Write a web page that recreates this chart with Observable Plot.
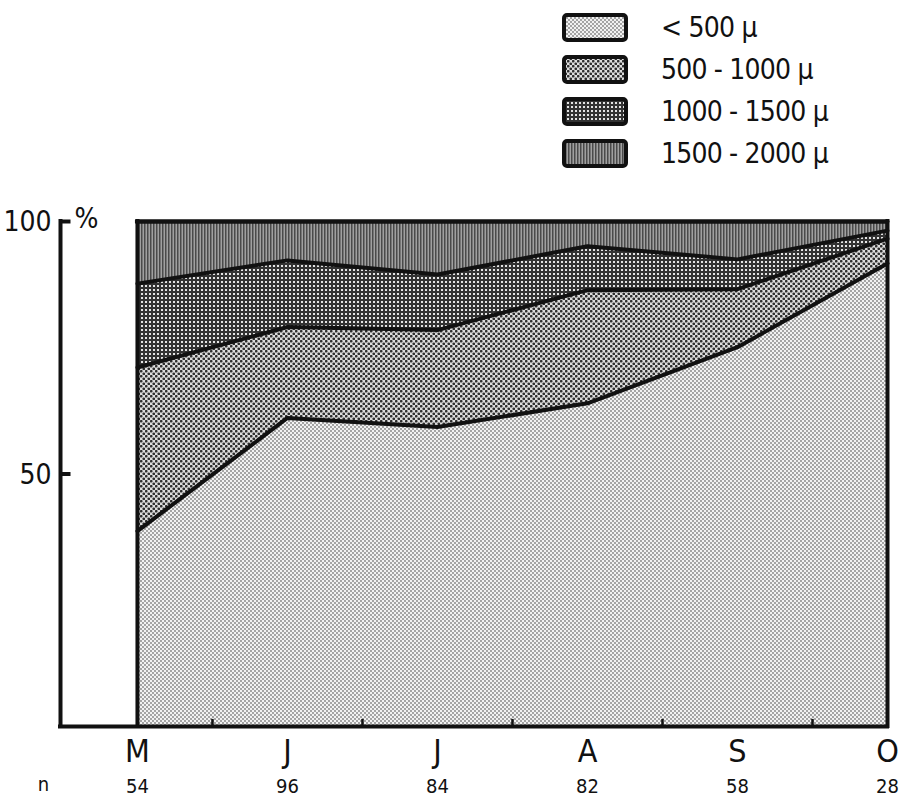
<!DOCTYPE html>
<html>
<head>
<meta charset="utf-8">
<script src="https://cdn.jsdelivr.net/npm/d3@7"></script>
<script src="https://cdn.jsdelivr.net/npm/@observablehq/plot@0.6"></script>
<style>
  html, body { margin: 0; padding: 0; background: #fff; overflow: hidden; }
  #wrap { position: relative; width: 903px; height: 799px; font-family: "DejaVu Sans Condensed", "DejaVu Sans", sans-serif; }
  #chart { position: absolute; left: 0; top: 0; }
  #legend { position: absolute; left: 562px; top: 6px; }
  .row { display: flex; align-items: center; height: 42px; }
  .row svg { display: block; }
  .row span { margin-left: 33px; font-size: 28px; color: #111; letter-spacing: -0.8px; }
</style>
</head>
<body>
<svg width="0" height="0" style="position:absolute">
  <defs>
    <pattern id="p1" width="4" height="4" patternUnits="userSpaceOnUse">
      <rect width="4" height="4" fill="#f2f2f2"/>
      <circle cx="1" cy="1" r="0.9" fill="#808080"/>
      <circle cx="3" cy="3" r="0.9" fill="#808080"/>
    </pattern>
    <pattern id="p2" width="5" height="5" patternUnits="userSpaceOnUse">
      <rect width="5" height="5" fill="#dcdcdc"/>
      <circle cx="1.25" cy="1.25" r="1.35" fill="#2e2e2e"/>
      <circle cx="3.75" cy="3.75" r="1.35" fill="#2e2e2e"/>
    </pattern>
    <pattern id="p3" width="4" height="4" patternUnits="userSpaceOnUse">
      <rect width="4" height="4" fill="#333"/>
      <rect x="1" y="1" width="2" height="2" fill="#e4e4e4"/>
    </pattern>
    <pattern id="p4" width="3" height="3" patternUnits="userSpaceOnUse">
      <rect width="3" height="3" fill="#a0a0a0"/>
      <rect width="1.5" height="3" fill="#4a4a4a"/>
    </pattern>
  </defs>
</svg>
<div id="wrap">
  <div id="chart"></div>
  <div id="legend"></div>
</div>
<script>
// ---- data ----
const months = ["M", "J", "J", "A", "S", "O"];
const nValues = [54, 96, 84, 82, 58, 28];
const sizeClasses = ["< 500 µ", "500 - 1000 µ", "1000 - 1500 µ", "1500 - 2000 µ"];
const lt500 = [38.7, 61.1, 59.3, 64.0, 75.1, 91.7];
const s500to1000 = [32.4, 18.0, 19.2, 22.4, 11.5, 4.9];
const s1000to1500 = [16.6, 13.2, 11.0, 8.7, 5.9, 1.6];
const s1500to2000 = [12.3, 7.7, 10.5, 4.9, 7.5, 1.8];
const yTicks = [50, 100];
const patterns = ["url(#p1)", "url(#p2)", "url(#p3)", "url(#p4)"];

const layers = [lt500, s500to1000, s1000to1500, s1500to2000];
const idx = d3.range(months.length);
const rows = [];
layers.forEach((vals, k) => idx.forEach(i => rows.push({i, cls: sizeClasses[k], v: vals[i]})));
const xmin = -0.513;
const xmax = idx.length - 1;
const midTicks = idx.slice(1).map(i => i - 0.5);
const SW = 4;

const plot = Plot.plot({
  width: 903,
  height: 799,
  marginTop: 221,
  marginBottom: 73,
  marginLeft: 60,
  marginRight: 16,
  style: {fontFamily: "'DejaVu Sans Condensed', 'DejaVu Sans', sans-serif", background: "transparent", overflow: "visible"},
  x: {type: "linear", domain: [xmin, xmax], axis: null},
  y: {domain: [0, 100], axis: null},
  color: {type: "ordinal", domain: sizeClasses, range: patterns},
  marks: [
    Plot.areaY(rows, {x: "i", y: "v", z: "cls", fill: "cls", curve: "linear"}),
    Plot.lineY(rows, Plot.stackY2({x: "i", y: "v", z: "cls", stroke: "#111", strokeWidth: SW, strokeLinejoin: "round"})),
    // frame of the data area
    Plot.ruleX([0, xmax], {y1: 0, y2: 100, stroke: "#111", strokeWidth: SW, strokeLinecap: "square"}),
    Plot.ruleY([100], {x1: 0, x2: xmax, stroke: "#111", strokeWidth: SW, strokeLinecap: "square"}),
    // axes
    Plot.ruleY([0], {x1: xmin, x2: xmax, stroke: "#111", strokeWidth: SW, strokeLinecap: "square"}),
    Plot.ruleX([xmin], {y1: 0, y2: 100, stroke: "#111", strokeWidth: SW, strokeLinecap: "square"}),
    Plot.ruleY(yTicks, {x1: xmin, x2: xmin + 0.07, stroke: "#111", strokeWidth: SW}),
    Plot.text(yTicks, {x: xmin, y: d => d, text: d => String(d), textAnchor: "end", dx: -9, dy: 1, fontSize: 28, fill: "#111"}),
    Plot.text(["%"], {x: xmin, y: 100, text: d => d, textAnchor: "start", dx: 14, dy: -2, fontSize: 28, fill: "#111"}),
    Plot.ruleX(midTicks, {y1: 0, y2: 1.4, stroke: "#111", strokeWidth: 2.5}),
    Plot.text(idx, {x: d => d, y: 0, text: d => months[d], dy: 25, fontSize: 32, fill: "#111"}),
    Plot.text(idx, {x: d => d, y: 0, text: d => String(nValues[d]), dy: 60, fontSize: 20, fill: "#111"}),
    Plot.text(["n"], {x: xmin, y: 0, text: d => d, dx: -17, dy: 58, fontSize: 20, fill: "#111"})
  ]
});
document.getElementById("chart").appendChild(plot);

// legend
const legend = d3.select("#legend");
sizeClasses.forEach((c, k) => {
  const row = legend.append("div").attr("class", "row");
  const s = row.append("svg").attr("width", 66).attr("height", 29);
  s.append("rect").attr("x", 2).attr("y", 2).attr("width", 62).attr("height", 25)
    .attr("rx", 3).attr("fill", patterns[k]).attr("stroke", "#111").attr("stroke-width", 4);
  row.append("span").text(c);
});
</script>
</body>
</html>
